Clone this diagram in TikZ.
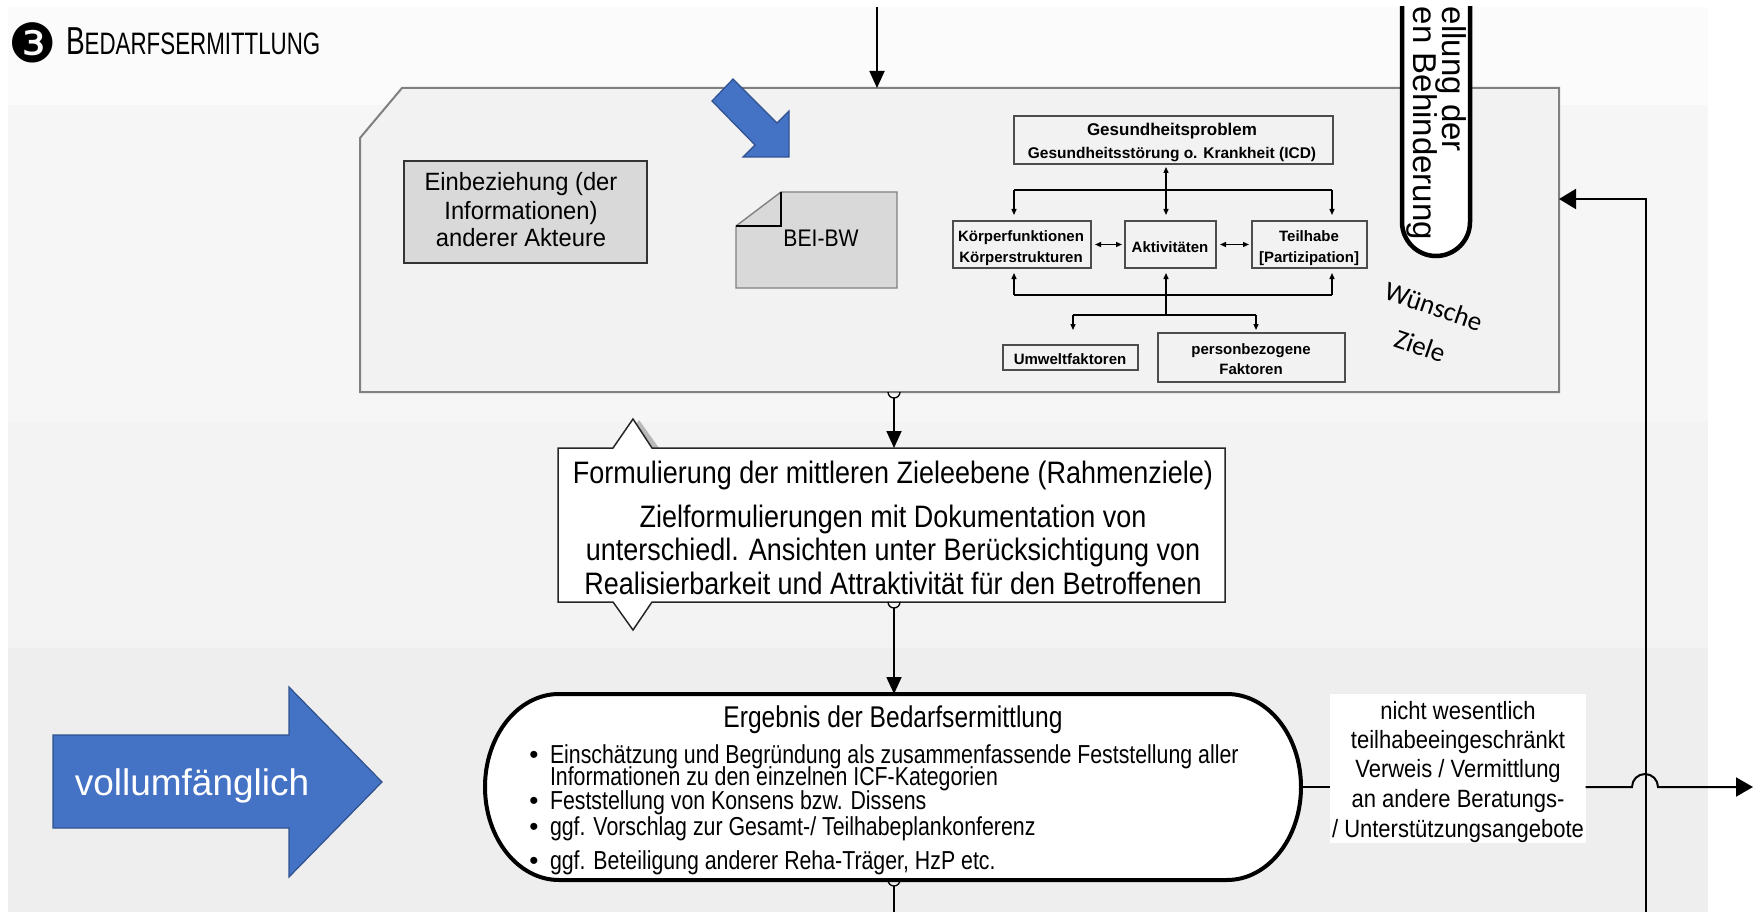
\documentclass[tikz,border=0pt]{standalone}
\usepackage{fontspec}
\setmainfont{Liberation Sans}
\newfontfamily\fnarrow[FakeStretch=0.87]{Liberation Sans}
\newfontfamily\fergb[FakeStretch=0.82]{Liberation Sans}
\newfontfamily\flab[FakeStretch=0.88]{Liberation Sans}
\newfontfamily\feinb[FakeStretch=0.95]{Liberation Sans}
\newfontfamily\fhead[FakeStretch=0.72]{Liberation Sans}
\newfontfamily\fcal{Carlito}
\newfontfamily\fdv{DejaVu Sans}
\newcommand{\myfs}[1]{\fontsize{#1pt}{#1pt}\selectfont}
\usetikzlibrary{arrows.meta,calc}
\definecolor{bgA}{HTML}{FBFBFB}
\definecolor{bgB}{HTML}{F6F6F6}
\definecolor{bgC}{HTML}{F3F3F3}
\definecolor{bgD}{HTML}{EEEEEE}
\definecolor{mainfill}{HTML}{F2F2F2}
\definecolor{mainline}{HTML}{808080}
\definecolor{greybox}{HTML}{D9D9D9}
\definecolor{icfline}{HTML}{4D4D4D}
\definecolor{blueA}{HTML}{4472C4}
\definecolor{blueB}{HTML}{2F528F}
\begin{document}
\begin{tikzpicture}[x=1pt,y=-1pt,
  txt/.style={inner sep=0pt,outer sep=0pt},
  box/.style={inner sep=0pt,outer sep=0pt,anchor=north west},
  icfbox/.style={box,draw=icfline,line width=1.4pt},
  conn/.style={line width=1.8pt,-{Triangle[length=17pt,width=15pt]}},
  cup/.style={line width=1.3pt},
  icfl/.style={line width=1.3pt},
  icfarr/.style={line width=1.3pt,-{Triangle[length=6pt,width=5pt]}},
  icfdbl/.style={line width=1.3pt,{Triangle[length=6pt,width=5pt]}-{Triangle[length=6pt,width=5pt]}},
  icft/.style={txt,anchor=base,font=\bfseries\myfs{15}},
  formt/.style={txt,anchor=base,font=\fnarrow\myfs{31}},
  ergt/.style={txt,anchor=base west,font=\fergb\myfs{26}},
  bul/.style={txt,anchor=base,font=\myfs{26}},
  labt/.style={txt,anchor=base,font=\flab\myfs{25}},
  einbt/.style={txt,anchor=base,font=\feinb\myfs{25}},
  bluearrow/.style={fill=blueA,draw=blueB,line width=1.2pt}
]
\useasboundingbox (0,0) rectangle (1762,912);
% background bands
\fill[white] (0,0) rectangle (1762,912);
\fill[bgA] (8,7) rectangle (1708,105);
\fill[bgB] (8,105) rectangle (1708,422);
\fill[bgC] (8,422) rectangle (1708,648);
\fill[bgD] (8,648) rectangle (1708,912);

% header
\node[txt,font=\fdv\myfs{54}] (num) at (33,43) {❸};
\node[txt,anchor=base west] (hd) at (66,55) {\fhead\myfs{39}B\myfs{31}EDARFSERMITTLUNG};

% main box
\node[box,minimum width=1199pt,minimum height=304pt] (main) at (360,88) {};
\draw[fill=mainfill,draw=mainline,line width=2pt] (402,88) -- (1559,88) -- (1559,392) -- (360,392) -- (360,138) -- cycle;

% Einbeziehung
\node[box,fill=greybox,draw=black!80,line width=1.8pt,minimum width=243pt,minimum height=102pt] (einb) at (404,161) {};
\node[einbt] (e1) at (521,191) {Einbeziehung (der};
\node[einbt] (e2) at (521,220) {Informationen)};
\node[einbt] (e3) at (521,247) {anderer Akteure};

% BEI-BW document
\node[box,minimum width=161pt,minimum height=96pt] (bei) at (736,192) {};
\draw[fill=greybox,draw=mainline,line width=1.4pt] (736,226) -- (781,192) -- (897,192) -- (897,288) -- (736,288) -- cycle;
\draw[line width=1.5pt] (781,192) -- (781,226) -- (736,226);
\node[txt,anchor=base,font=\flab\myfs{24}] (beit) at (821,247) {BEI-BW};

% diagonal blue arrow
\draw[bluearrow] (733,79) -- (777,123) -- (789,111) -- (789,157) -- (743,157) -- (755,145) -- (712,101) -- cycle;

% ICF boxes
\node[icfbox,minimum width=319pt,minimum height=48pt] (gp) at (1014,116) {};
\node[txt,anchor=base,font=\bfseries\myfs{17}] (gpt1) at (1172,136) {Gesundheitsproblem};
\node[txt,anchor=base,font=\bfseries\myfs{15.5}] (gpt2) at (1172,159) {Gesundheitsstörung o. Krankheit (ICD)};
\node[icfbox,minimum width=138pt,minimum height=47pt] (kf) at (953,221) {};
\node[icft] (kft1) at (1021,242) {Körperfunktionen};
\node[icft] (kft2) at (1021,262) {Körperstrukturen};
\node[icfbox,minimum width=91pt,minimum height=47pt] (akt) at (1125,221) {};
\node[icft] (aktt) at (1170,252) {Aktivitäten};
\node[icfbox,minimum width=115pt,minimum height=47pt] (th) at (1252,221) {};
\node[icft] (tht1) at (1309,242) {Teilhabe};
\node[icft] (tht2) at (1309,262) {[Partizipation]};
\node[icfbox,minimum width=135pt,minimum height=25pt] (uw) at (1003,345) {};
\node[icft] (uwt) at (1070,364) {Umweltfaktoren};
\node[icfbox,minimum width=187pt,minimum height=49pt] (pb) at (1158,333) {};
\node[icft] (pbt1) at (1251,354) {personbezogene};
\node[icft] (pbt2) at (1251,374) {Faktoren};

% ICF connectors
\coordinate (icfx) at (1166,0);
\draw[icfdbl,shorten <=3pt,shorten >=6pt] (icfx |- gp.south) -- (icfx |- akt.north);
\coordinate (b1) at (1014,190);
\coordinate (b2) at (1332,190);
\draw[icfl] (b1) -- (b2);
\draw[icfarr,shorten >=6pt] (b1) -- (b1 |- kf.north);
\draw[icfarr,shorten >=6pt] (b2) -- (b2 |- th.north);
\draw[icfdbl,shorten <=4pt,shorten >=3pt] (kf.east) -- (akt.west);
\draw[icfdbl,shorten <=4pt,shorten >=3pt] (akt.east) -- (th.west);
\coordinate (c1) at (1014,295);
\coordinate (c2) at (1332,295);
\draw[icfl] (c1) -- (c2);
\draw[icfarr,shorten >=5pt] (c1) -- (c1 |- kf.south);
\draw[icfarr,shorten >=5pt] (c2) -- (c2 |- th.south);
\coordinate (d0) at (1166,315);
\draw[icfarr,shorten >=5pt] (d0) -- (d0 |- akt.south);
\coordinate (d1) at (1073,315);
\coordinate (d2) at (1256,315);
\draw[icfl] (d1) -- (d2);
\draw[icfarr,shorten >=3pt] (d1) -- (d1 |- pb.north);
\draw[icfarr,shorten >=3pt] (d2) -- (d2 |- pb.north);

% pill top right
\begin{scope}
\clip (1380,7) rectangle (1500,300);
\draw[line width=4.5pt,fill=white] (1402,0) -- (1402,222) arc[start angle=180,end angle=0,radius=34] -- (1470,0);
\end{scope}
\node[txt,rotate=-90,anchor=base west,font=\myfs{33}] (pl1) at (1442,7) {ellung der};
\node[txt,rotate=-90,anchor=base west,font=\myfs{33}] (pl2) at (1413,7) {en Behinderung};

% Wuensche Ziele
\node[txt,rotate=-19,align=center,font=\fcal\myfs{27}] (wz) at (1427,326) {Wünsche\\[15pt]Ziele};

% Formulierung
\node[box,minimum width=667pt,minimum height=154pt] (form) at (558,448) {};
\fill[gray!55] (619,448) -- (639,420) -- (659,448) -- cycle;
\draw[fill=white,draw=black!85,line width=1.5pt] (558,448) -- (613,448) -- (633,419) -- (652,448) -- (1225,448) -- (1225,602) -- (652,602) -- (633,630) -- (613,602) -- (558,602) -- cycle;
\node[formt] (f1) at (893,483) {Formulierung der mittleren Zieleebene (Rahmenziele)};
\node[formt] (f2) at (893,527) {Zielformulierungen mit Dokumentation von};
\node[formt] (f3) at (893,560) {unterschiedl. Ansichten unter Berücksichtigung von};
\node[formt] (f4) at (893,594) {Realisierbarkeit und Attraktivität für den Betroffenen};

% Ergebnis
\node[box,minimum width=815.6pt,minimum height=186pt] (erg) at (485,694) {};
\draw[line width=4pt,fill=white] (559,694) -- (1227,694) arc[start angle=-90,end angle=90,x radius=74,y radius=93] -- (559,880) arc[start angle=90,end angle=270,x radius=74,y radius=93] -- cycle;
\node[txt,anchor=base,font=\fergb\myfs{30}] (gt) at (893,727) {Ergebnis der Bedarfsermittlung};
\node[bul] (bu1) at (534,763) {•};
\node[ergt] (g1) at (550,763) {Einschätzung und Begründung als zusammenfassende Feststellung aller};
\node[ergt] (g2) at (550,785) {Informationen zu den einzelnen ICF-Kategorien};
\node[bul] (bu3) at (534,809) {•};
\node[ergt] (g3) at (550,809) {Feststellung von Konsens bzw. Dissens};
\node[bul] (bu4) at (534,835) {•};
\node[ergt] (g4) at (550,835) {ggf. Vorschlag zur Gesamt-/ Teilhabeplankonferenz};
\node[bul] (bu5) at (534,869) {•};
\node[ergt] (g5) at (550,869) {ggf. Beteiligung anderer Reha-Träger, HzP etc.};

% label
\node[box,fill=white,minimum width=256pt,minimum height=149pt] (lbl) at (1329.6,694) {};
\node[labt] (l1) at (1458,719) {nicht wesentlich};
\node[labt] (l2) at (1458,748) {teilhabeeingeschränkt};
\node[labt] (l3) at (1458,777) {Verweis / Vermittlung};
\node[labt] (l4) at (1458,807) {an andere Beratungs-};
\node[labt] (l5) at (1458,837) {/ Unterstützungsangebote};

% vertical connectors
\coordinate (topin) at (877,7);
\draw[conn] (topin) -- (topin |- main.north);
\coordinate (vx) at (894,0);
\draw[cup] ($(vx |- main.south)+(-6,0)$) arc[start angle=180,end angle=0,radius=6];
\draw[conn] ($(vx |- main.south)+(0,6)$) -- (vx |- form.north);
\draw[cup] ($(vx |- form.south)+(-6,0)$) arc[start angle=180,end angle=0,radius=6];
\draw[conn] ($(vx |- form.south)+(0,6)$) -- (vx |- erg.north);
\coordinate (botout) at (894,912);
\draw[cup] ($(vx |- erg.south)+(-6,0)$) arc[start angle=180,end angle=0,radius=6];
\draw[line width=1.8pt] ($(vx |- erg.south)+(0,6)$) -- (botout);

% right return connector
\coordinate (rb) at (1646,912);
\coordinate (rc) at (1646,199);
\draw[line width=2pt,-{Triangle[length=17pt,width=20pt]}] (rb) -- (rc) -- (rc -| main.east);

% outgoing line with hop
\draw[line width=2pt] (erg.east) -- (lbl.west |- erg.east);
\coordinate (hop) at (1632,787);
\coordinate (outR) at (1753,787);
\draw[line width=2pt,-{Triangle[length=17pt,width=19pt]}] (lbl.east |- erg.east) -- (hop) arc[start angle=180,end angle=360,radius=13] -- (outR);

% big blue arrow
\node[box,minimum width=329pt,minimum height=190pt] (vollarr) at (53,687) {};
\draw[bluearrow] (53,735) -- (289,735) -- (289,687) -- (382,782) -- (289,877) -- (289,828) -- (53,828) -- cycle;
\node[txt,anchor=base,font=\myfs{37},text=white] (vt) at (192,795) {vollumfänglich};
\end{tikzpicture}
\end{document}
